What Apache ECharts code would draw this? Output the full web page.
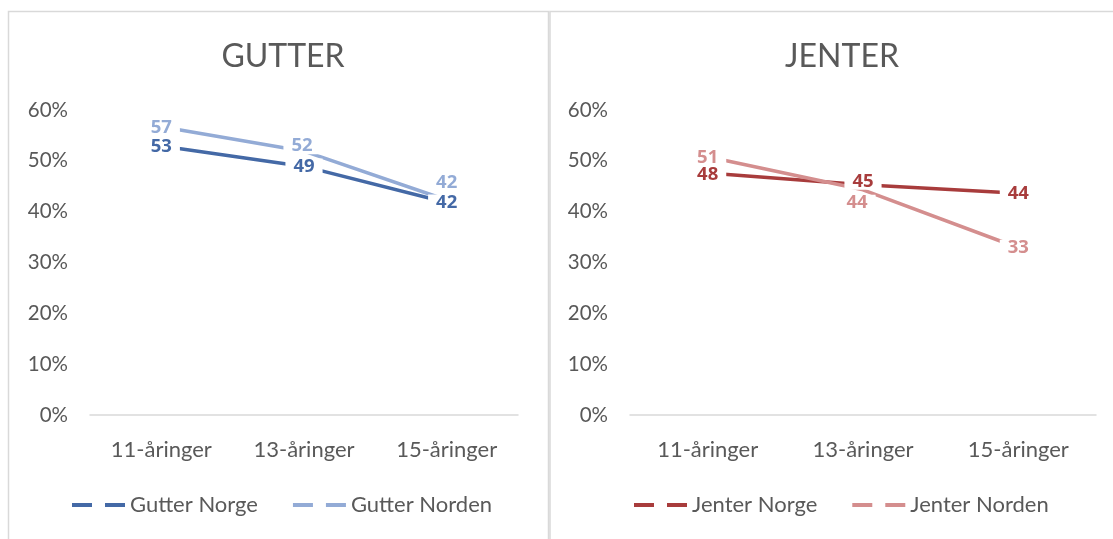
<!DOCTYPE html>
<html lang="no">
<head>
  <meta charset="UTF-8">
  <title>Gutter og jenter</title>
  <script src="https://cdn.jsdelivr.net/npm/echarts@6/dist/echarts.min.js"></script>
  <style>
    html, body { margin: 0; padding: 0; background: #fff; }
  </style>
</head>
<body>
  <div id="chart" style="width: 1113px; height: 539px;"></div>
  <script>
    // data (percent)
    var categories = ['11-åringer', '13-åringer', '15-åringer'];
    var gutterNorge = [52.9, 48.9, 41.8];
    var gutterNorden = [56.7, 51.9, 42.3];
    var jenterNorge = [47.6, 45.3, 43.6];
    var jenterNorden = [50.8, 44.3, 32.9];
    var yTicks = [0, 10, 20, 30, 40, 50, 60];

    var font = 'Lato';
    var grey = '#595959';
    var dash = 'path://M0,0H20V4H0Z M33,0H53V4H33Z';

    // small nudges so overlapping labels sit apart like in the original
    function withOffsets(values, offsets) {
      return values.map(function (v, i) {
        var item = { value: v };
        if (offsets[i]) item.label = { offset: offsets[i] };
        return item;
      });
    }

    function lineSeries(name, values, color, idx, offsets) {
      return {
        type: 'line',
        name: name,
        xAxisIndex: idx,
        yAxisIndex: idx,
        data: withOffsets(values, offsets),
        symbol: 'circle',
        symbolSize: 0,
        showSymbol: true,
        color: color,
        itemStyle: { color: color },
        lineStyle: { color: color, width: 3.5 },
        label: {
          show: true,
          position: 'inside',
          color: color,
          fontFamily: 'Open Sans',
          fontWeight: 'bold',
          fontSize: 18.5,
          lineHeight: 16,
          backgroundColor: '#fff',
          padding: [0, 8],
          formatter: function (p) { return Math.round(p.value); }
        },
        emphasis: { disabled: true },
        silent: true
      };
    }

    function xAxis(idx) {
      return {
        type: 'category',
        gridIndex: idx,
        data: categories,
        axisLine: { lineStyle: { color: '#d9d9d9', width: 1.5 } },
        axisTick: { show: false },
        axisLabel: { color: grey, fontFamily: font, fontSize: 22, margin: 24 }
      };
    }

    function yAxis(idx) {
      return {
        type: 'value',
        gridIndex: idx,
        min: yTicks[0],
        max: yTicks[yTicks.length - 1],
        interval: 10,
        axisLine: { show: false },
        axisTick: { show: false },
        splitLine: { show: false },
        axisLabel: { color: grey, fontFamily: font, fontSize: 20.5, margin: 22, formatter: '{value}%' }
      };
    }

    var myChart = echarts.init(document.getElementById('chart'));

    var option = {
      animation: false,
      graphic: [
        { type: 'rect', shape: { x: 8.5, y: 11.5, width: 540, height: 600 }, style: { fill: 'none', stroke: '#d9d9d9', lineWidth: 1.5 } },
        { type: 'rect', shape: { x: 550, y: 11.5, width: 600, height: 600 }, style: { fill: 'none', stroke: '#d9d9d9', lineWidth: 1.5 } }
      ],
      title: [
        { text: 'GUTTER', left: 278, top: 36, textAlign: 'center', textStyle: { color: grey, fontFamily: font, fontWeight: 'normal', fontSize: 32 } },
        { text: 'JENTER', left: 837, top: 36, textAlign: 'center', textStyle: { color: grey, fontFamily: font, fontWeight: 'normal', fontSize: 32 } }
      ],
      legend: [
        {
          left: 72, top: 494, padding: 0, itemWidth: 53, itemHeight: 4, itemGap: 35,
          icon: dash,
          data: ['Gutter Norge', 'Gutter Norden'],
          textStyle: { color: grey, fontFamily: font, fontSize: 22 }
        },
        {
          left: 634, top: 494, padding: 0, itemWidth: 53, itemHeight: 4, itemGap: 35,
          icon: dash,
          data: ['Jenter Norge', 'Jenter Norden'],
          textStyle: { color: grey, fontFamily: font, fontSize: 22 }
        }
      ],
      grid: [
        { left: 90, right: 595, top: 110, bottom: 124 },
        { left: 630, right: 17, top: 110, bottom: 124 }
      ],
      xAxis: [xAxis(0), xAxis(1)],
      yAxis: [yAxis(0), yAxis(1)],
      series: [
        lineSeries('Gutter Norge', gutterNorge, '#4469a6', 0, [[0, 1], null, null]),
        lineSeries('Gutter Norden', gutterNorden, '#93abd6', 0, [[0, 1], [-2, -5], [0, -17]]),
        lineSeries('Jenter Norge', jenterNorge, '#a83c3c', 1, [[0, 2], [0, -3], null]),
        lineSeries('Jenter Norden', jenterNorden, '#d48e8e', 1, [[0, 1], [-6, 13], null])
      ]
    };

    myChart.setOption(option);
  </script>
</body>
</html>
